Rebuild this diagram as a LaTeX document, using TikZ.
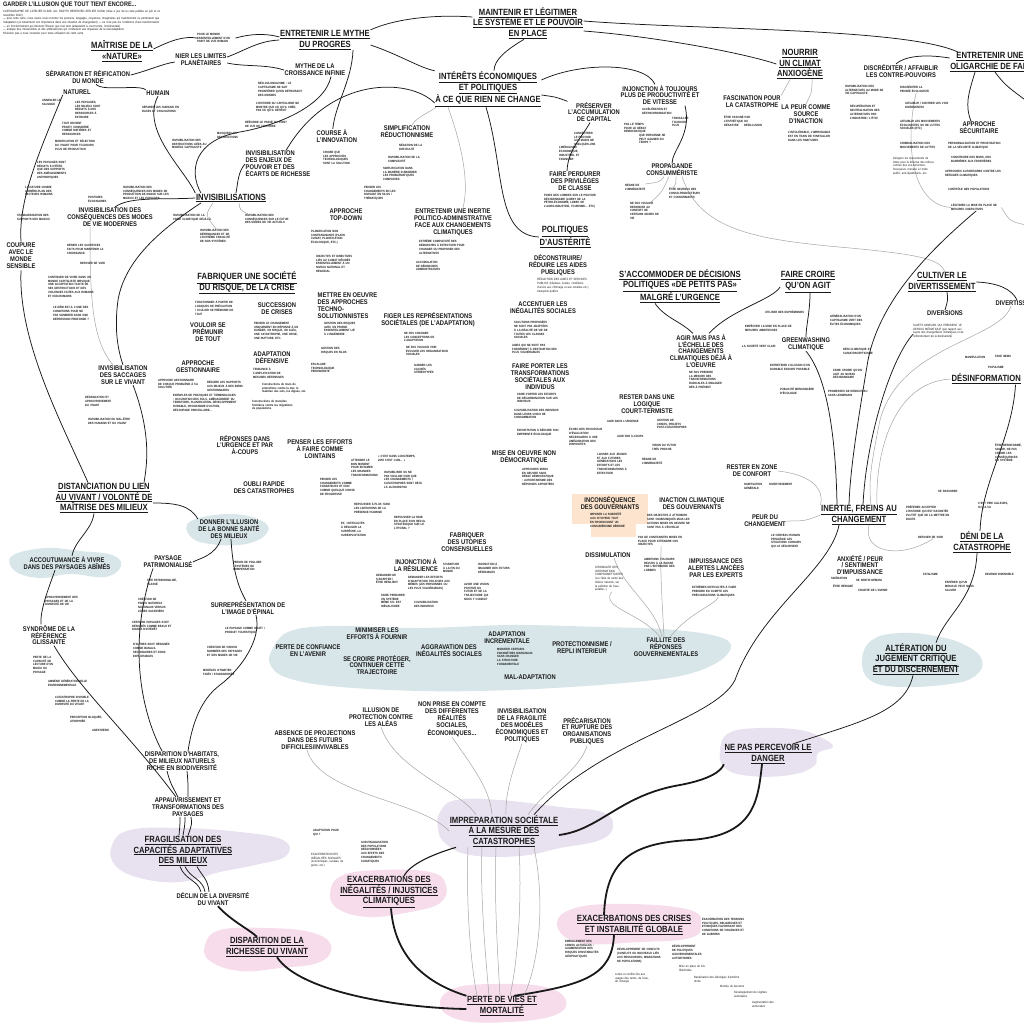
\documentclass[tikz,border=0pt]{standalone}
\usepackage{fontspec}
\setmainfont{Liberation Sans}[FakeStretch=0.85]
\hyphenpenalty=10000 \exhyphenpenalty=10000
\definecolor{ink}{RGB}{25,25,25}
\definecolor{bblue}{RGB}{216,230,234}
\definecolor{blav}{RGB}{232,225,239}
\definecolor{bpink}{RGB}{247,221,236}
\definecolor{borange}{RGB}{252,228,206}
\definecolor{lgray}{RGB}{165,165,165}
\newcommand{\fA}{\bfseries\fontsize{9}{10.6}\selectfont}
\newcommand{\fB}{\bfseries\fontsize{6.8}{6.9}\selectfont}
\newcommand{\fC}{\bfseries\fontsize{3.1}{3.75}\selectfont}
\newcommand{\uu}[1]{\underline{#1}}
\pgfdeclarelayer{blobs}
\pgfdeclarelayer{bg}
\pgfsetlayers{blobs,bg,main}
\tikzset{
 hA/.style={font=\fA, align=center, inner sep=0.5pt, text=ink},
 hB/.style={font=\fB, align=center, inner sep=0.5pt, text=ink},
 sm/.style={font=\fC, align=left, inner sep=0pt, text=ink, text width=#1pt, anchor=north west},
 lk/.style={line width=0.75pt, draw=ink},
 gk/.style={line width=0.5pt, draw=lgray},
 tk/.style={line width=1.8pt, draw=ink}
}
\begin{document}
\begin{tikzpicture}[x=1pt,y=-1pt]
\useasboundingbox (0,0) rectangle (1024,1024);
\coordinate (edgeR) at (1032,105);
\coordinate (edgeR2) at (1032,226);

% ---------------- blobs ----------------
\begin{pgfonlayer}{blobs}
\fill[white] (0,0) rectangle (1024,1024);
\fill[bblue] plot[smooth cycle, tension=0.7] coordinates {(12,556) (45,548) (80,551) (112,555) (121,566) (105,577) (70,574) (40,578) (15,571)};
\fill[bblue] plot[smooth cycle, tension=0.7] coordinates {(191,521) (230,514) (262,521) (267,533) (246,544) (210,544) (190,536)};
\fill[bblue] plot[smooth cycle, tension=0.6] coordinates {(272,650) (288,632) (330,626) (420,628) (512,625) (600,627) (662,629) (712,635) (731,645) (718,662) (680,676) (612,684) (512,690) (420,691) (330,686) (285,677) (270,664)};
\fill[bblue] plot[smooth cycle, tension=0.7] coordinates {(862,660) (872,640) (900,633) (935,636) (965,645) (982,660) (975,676) (950,684) (900,687) (870,680)};
\fill[blav] plot[smooth cycle, tension=0.7] coordinates {(720,750) (729,733) (760,728) (800,730) (822,738) (833,747) (818,753) (814,766) (790,775) (750,776) (725,768)};
\fill[blav] plot[smooth cycle, tension=0.7] coordinates {(440,812) (456,800) (500,800) (560,807) (602,812) (613,826) (600,840) (560,848) (520,856) (470,855) (445,843) (438,828)};
\fill[blav] plot[smooth cycle, tension=0.7] coordinates {(112,845) (130,830) (180,828) (240,832) (283,840) (286,856) (255,865) (220,872) (180,882) (140,878) (115,865)};
\fill[bpink] plot[smooth cycle, tension=0.7] coordinates {(330,895) (341,876) (380,870) (430,872) (446,885) (440,903) (410,912) (370,917) (340,910)};
\fill[bpink] plot[smooth cycle, tension=0.7] coordinates {(205,945) (220,930) (265,928) (310,932) (331,945) (320,962) (280,968) (240,971) (210,961)};
\fill[bpink] plot[smooth cycle, tension=0.7] coordinates {(440,1005) (455,988) (500,984) (545,987) (566,1000) (555,1015) (510,1022) (460,1020)};
\fill[bpink] plot[smooth cycle, tension=0.7] coordinates {(557,925) (575,908) (630,904) (690,910) (701,925) (690,938) (640,942) (580,943)};
\fill[borange] (572,494) rectangle (648,524);
\fill[borange] (591,523) rectangle (636,537);
\end{pgfonlayer}

% ---------------- title ----------------
\node[anchor=north west, font=\bfseries\fontsize{6.5}{7}\selectfont, inner sep=0, text=ink] (title) at (3,2) {GARDER L'ILLUSION QUE TOUT TIENT ENCORE...};
\node[sm=205, font=\fontsize{3.1}{3.7}\selectfont] (subtitle) at (3,10) {CARTOGRAPHIE DE L'ATELIER KLIMA. ALL RIGHTS RESERVED ATELIER KLIMA (mise à jour de la carte publiée en juin et en\\novembre 2022)\\— pour cette carte, nous avons voulu montrer les postures, langages, croyances, imaginaires qui maintiennent ou permettent que\\l'adaptation (et notamment son importance dans une situation de changement) — ne crée pas les conditions d'une transformation\\— en fonctionnement qui donnent l'illusion que tout tient (adaptation à court terme, incrémentale)\\— analyse des mécanismes et des ambivalences qui conduisent aux impasses de la mal-adaptation\\N'hésitez pas à nous contacter pour toute utilisation de cette carte};

% ---------------- main headings ----------------
\node[hA] (mainT) at (528,23) {\uu{MAINTENIR ET LÉGITIMER}\\\uu{LE SYSTÈME ET LE POUVOIR}\\\uu{EN PLACE}};
\node[hA] (mythe) at (325,40) {\uu{ENTRETENIR LE MYTHE}\\\uu{DU PROGRES}};
\node[hA] (maitrise) at (122,51) {\uu{MAÎTRISE DE LA}\\\uu{«NATURE»}};
\node[hA] (nourrir) at (800,64) {\uu{NOURRIR}\\\uu{UN CLIMAT}\\\uu{ANXIOGÈNE}};
\node[hA] (oligarchie) at (990,62) {\uu{ENTRETENIR UNE}\\\uu{OLIGARCHIE DE FAIT}};
\node[hA] (interets) at (488,89) {\uu{INTÉRÊTS ÉCONOMIQUES}\\\uu{ET POLITIQUES}\\\uu{À CE QUE RIEN NE CHANGE}};
\node[hA] (invis) at (231,198) {\uu{INVISIBILISATIONS}};
\node[hA] (fabriquer) at (247,283) {\uu{FABRIQUER UNE SOCIÉTÉ}\\\uu{DU RISQUE, DE LA CRISE}};
\node[hA] (austerite) at (565,237) {\uu{POLITIQUES}\\\uu{D'AUSTÉRITÉ}};
\node[hA] (accommoder) at (680,286) {\uu{S'ACCOMMODER DE DÉCISIONS}\\\uu{POLITIQUES «DE PETITS PAS»}\\\uu{MALGRÉ L'URGENCE}};
\node[hA] (fairecroire) at (808,282) {\uu{FAIRE CROIRE}\\\uu{QU'ON AGIT}};
\node[hA] (cultiver) at (942,282) {\uu{CULTIVER LE}\\\uu{DIVERTISSEMENT}};
\node[hA] (distanciation) at (104,498) {\uu{DISTANCIATION DU LIEN}\\\uu{AU VIVANT / VOLONTÉ DE}\\\uu{MAÎTRISE DES MILIEUX}};
\node[hA] (inertie) at (859,515) {\uu{INERTIE, FREINS AU}\\\uu{CHANGEMENT}};
\node[hA] (deni) at (982,542) {\uu{DÉNI DE LA}\\\uu{CATASTROPHE}};
\node[hA, anchor=west] (desinfo) at (951,379) {\uu{DÉSINFORMATION}};
\node[hA] (alteration) at (916,659) {\uu{ALTÉRATION DU}\\\uu{JUGEMENT CRITIQUE}\\\uu{ET DU DISCERNEMENT}};
\node[hA] (neparcevoir) at (768,754) {\uu{NE PAS PERCEVOIR LE}\\\uu{DANGER}};
\node[hA] (impreparation) at (504,831) {\uu{IMPREPARATION SOCIÉTALE}\\\uu{À LA MESURE DES}\\\uu{CATASTROPHES}};
\node[hA] (exacInegal) at (389,892) {\uu{EXACERBATIONS DES}\\\uu{INÉGALITÉS / INJUSTICES}\\\uu{CLIMATIQUES}};
\node[hA] (fragilisation) at (183,851) {\uu{FRAGILISATION DES}\\\uu{CAPACITÉS ADAPTATIVES}\\\uu{DES MILIEUX}};
\node[hA] (disparition) at (267,947) {\uu{DISPARITION DE LA}\\\uu{RICHESSE DU VIVANT}};
\node[hA] (perte) at (502,1006) {\uu{PERTE DE VIES ET}\\\uu{MORTALITÉ}};
\node[hA] (exacCrises) at (634,925) {\uu{EXACERBATIONS DES CRISES}\\\uu{ET INSTABILITÉ GLOBALE}};

% ---------------- medium headings ----------------
\node[hB] (nier) at (201,60) {NIER LES LIMITES\\PLANÉTAIRES};
\node[hB] (separation) at (88,77) {SÉPARATION ET RÉIFICATION\\DU MONDE};
\node[hB] (naturel) at (77,92) {NATUREL};
\node[hB] (humain) at (158,93) {HUMAIN};
\node[hB] (croissance) at (315,70) {MYTHE DE LA\\CROISSANCE INFINIE};
\node[hB, align=left, anchor=west] (course) at (316,136) {COURSE À\\L'INNOVATION};
\node[hB, align=left, anchor=west] (enjeux) at (245,164) {INVISIBILISATION\\DES ENJEUX DE\\POUVOIR ET DES\\ÉCARTS DE RICHESSE};
\node[hB] (simplif) at (407,132) {SIMPLIFICATION\\RÉDUCTIONNISME};
\node[hB] (topdown) at (346,215) {APPROCHE\\TOP-DOWN};
\node[hB] (inertieadm) at (453,222) {ENTRETENIR UNE INERTIE\\POLITICO-ADMINISTRATIVE\\FACE AUX CHANGEMENTS\\CLIMATIQUES};
\node[hB, align=left, anchor=north west] (techno) at (317,292) {METTRE EN OEUVRE\\DES APPROCHES\\TECHNO-\\SOLUTIONNISTES};
\node[hB] (figer) at (428,320) {FIGER LES REPRÉSENTATIONS\\SOCIÉTALES (DE L'ADAPTATION)};
\node[hB] (succession) at (277,309) {SUCCESSION\\DE CRISES};
\node[hB] (vouloir) at (208,332) {VOULOIR SE\\PRÉMUNIR\\DE TOUT};
\node[hB] (adaptdef) at (272,358) {ADAPTATION\\DÉFENSIVE};
\node[hB] (gestionnaire) at (198,367) {APPROCHE\\GESTIONNAIRE};
\node[hB] (saccages) at (123,375) {INVISIBILISATION\\DES SACCAGES\\SUR LE VIVANT};
\node[hB] (consequences) at (110,217) {INVISIBILISATION DES\\CONSÉQUENCES DES MODES\\DE VIE MODERNES};
\node[hB] (reponses) at (245,445) {RÉPONSES DANS\\L'URGENCE ET PAR\\À-COUPS};
\node[hB] (penser) at (320,449) {PENSER LES EFFORTS\\À FAIRE COMME\\LOINTAINS};
\node[hB] (oubli) at (264,488) {OUBLI RAPIDE\\DES CATASTROPHES};
\node[hB] (utopies) at (467,542) {FABRIQUER\\DES UTOPIES\\CONSENSUELLES};
\node[hB] (resilience) at (416,565) {INJONCTION À\\LA RÉSILIENCE};
\node[hB] (paysage) at (168,562) {PAYSAGE\\PATRIMONIALISÉ};
\node[hB] (surrep) at (248,608) {SURREPRÉSENTATION DE\\L'IMAGE D'ÉPINAL};
\node[hB] (syndrome) at (49,635) {SYNDRÔME DE LA\\RÉFÉRENCE\\GLISSANTE};
\node[hB] (habitats) at (182,761) {DISPARITION D'HABITATS,\\DE MILIEUX NATURELS\\RICHE EN BIODIVERSITÉ};
\node[hB] (appauv) at (188,807) {APPAUVRISSEMENT ET\\TRANSFORMATIONS DES\\PAYSAGES};
\node[hB] (declin) at (213,899) {DÉCLIN DE LA DIVERSITÉ\\DU VIVANT};
\node[hB] (absence) at (315,740) {ABSENCE DE PROJECTIONS\\DANS DES FUTURS\\DIFFICILES/INVIVABLES};
\node[hB] (illusion) at (381,717) {ILLUSION DE\\PROTECTION CONTRE\\LES ALÉAS};
\node[hB] (nonprise) at (452,719) {NON PRISE EN COMPTE\\DES DIFFÉRENTES\\RÉALITÉS\\SOCIALES,\\ÉCONOMIQUES...};
\node[hB] (invisfrag) at (522,726) {INVISIBILISATION\\DE LA FRAGILITÉ\\DES MODÈLES\\ÉCONOMIQUES ET\\POLITIQUES};
\node[hB] (precar) at (587,731) {PRÉCARISATION\\ET RUPTURE DES\\ORGANISATIONS\\PUBLIQUES};
\node[hB] (diversions) at (945,313) {DIVERSIONS};
\node[hB, anchor=west] (divertiss) at (995,303) {DIVERTISSEMENT};
\node[hB] (discrediter) at (901,71) {DISCRÉDITER / AFFAIBLIR\\LES CONTRE-POUVOIRS};
\node[hB] (securitaire) at (979,128) {APPROCHE\\SÉCURITAIRE};
\node[hB] (fascination) at (752,102) {FASCINATION POUR\\LA CATASTROPHE};
\node[hB] (peur) at (806,114) {LA PEUR COMME\\SOURCE\\D'INACTION};
\node[hB] (injonction) at (660,95) {INJONCTION À TOUJOURS\\PLUS DE PRODUCTIVITÉ ET\\DE VITESSE};
\node[hB] (preserver) at (594,112) {PRÉSERVER\\L'ACCUMULATION\\DE CAPITAL};
\node[hB] (perdurer) at (575,181) {FAIRE PERDURER\\DES PRIVILÈGES\\DE CLASSE};
\node[hB] (propagande) at (672,170) {PROPAGANDE\\CONSUMMÉRISTE};
\node[hB] (deconstruire) at (558,265) {DÉCONSTRUIRE/\\RÉDUIRE LES AIDES\\PUBLIQUES};
\node[hB] (accentuer) at (543,308) {ACCENTUER LES\\INÉGALITÉS SOCIALES};
\node[hB] (agir) at (701,351) {AGIR MAIS PAS À\\L'ÉCHELLE DES\\CHANGEMENTS\\CLIMATIQUES DÉJÀ À\\L'OEUVRE};
\node[hB] (porter) at (540,377) {FAIRE PORTER LES\\TRANSFORMATIONS\\SOCIÉTALES AUX\\INDIVIDUS};
\node[hB] (court) at (647,404) {RESTER DANS UNE\\LOGIQUE\\COURT-TERMISTE};
\node[hB] (miseoeuvre) at (524,457) {MISE EN OEUVRE NON\\DÉMOCRATIQUE};
\node[hB] (inaction) at (692,504) {INACTION CLIMATIQUE\\DES GOUVERNANTS};
\node[hB] (dissimulation) at (608,555) {DISSIMULATION};
\node[hB] (impuissance) at (716,568) {IMPUISSANCE DES\\ALERTES LANCÉES\\PAR LES EXPERTS};
\node[hB] (zone) at (752,471) {RESTER EN ZONE\\DE CONFORT};
\node[hB] (peurchg) at (765,521) {PEUR DU\\CHANGEMENT};
\node[hB] (anxiete) at (860,565) {ANXIÉTÉ / PEUR\\/ SENTIMENT\\D'IMPUISSANCE};
\node[hB] (greenwash) at (806,344) {GREENWASHING\\CLIMATIQUE};
\node[hB, fill=white, inner sep=1.5pt] (coupure) at (21,256) {COUPURE\\AVEC LE\\MONDE\\SENSIBLE};
\node[hB] (inconsequence) at (610,503) {INCONSÉQUENCE\\DES GOUVERNANTS};
\node[hB] (accout) at (67,563) {ACCOUTUMANCE À VIVRE\\DANS DES PAYSAGES ABÎMÉS};
\node[hB] (donner) at (229,529) {DONNER L'ILLUSION\\DE LA BONNE SANTÉ\\DES MILIEUX};
\node[hB] (minimiser) at (377,634) {MINIMISER LES\\EFFORTS À FOURNIR};
\node[hB] (perteconf) at (308,651) {PERTE DE CONFIANCE\\EN L'AVENIR};
\node[hB] (secroire) at (377,665) {SE CROIRE PROTÉGER,\\CONTINUER CETTE\\TRAJECTOIRE};
\node[hB] (aggravation) at (449,651) {AGGRAVATION DES\\INÉGALITÉS SOCIALES};
\node[hB] (adaptinc) at (507,638) {ADAPTATION\\INCREMENTALE};
\node[hB] (maladapt) at (530,677) {MAL-ADAPTATION};
\node[hB] (protection) at (582,648) {PROTECTIONNISME /\\REPLI INTERIEUR};
\node[hB] (faillite) at (666,647) {FAILLITE DES\\RÉPONSES\\GOUVERNEMENTALES};

% ---------------- small texts ----------------
\node[sm=38] (t1) at (197,33) {POUR LE MONDE ESSENTIELLEMENT D'UN POINT DE VUE HUMAIN};
\node[sm=22] (t2) at (42,99) {ANNIHILER LE SAUVAGE};
\node[sm=28] (t3) at (75,101) {LES PAYSAGES, LES MILIEUX SONT RÉDUITS À DES RESSOURCES À EXTRAIRE};
\node[sm=32] (t4) at (62,122) {TOUT DEVIENT PROFIT, CONSIDÉRÉ COMME MATIÈRES ET RESSOURCES};
\node[sm=42] (t5) at (55,140) {MODIFICATION ET SÉLECTION DU VIVANT POUR TOUJOURS PLUS DE PRODUCTION};
\node[sm=35] (t6) at (37,161) {LES PAYSAGES SONT RÉDUITS À N'ÊTRE QUE DES SUPPORTS DES AMÉNAGEMENTS ANTHROPIQUES};
\node[sm=32] (t7) at (25,186) {LA NATURE COMME ARRIÈRE-PLAN DES FACTEURS HUMAINS};
\node[sm=38] (t8) at (17,214) {STANDARDISATION DES SUPPORTS DES MILIEUX};
\node[sm=24] (t9) at (88,196) {POSTURES ÉCOCIDAIRES};
\node[sm=46] (t10) at (123,186) {INVISIBILISATION DES CONSÉQUENCES DES MODES DE PRODUCTION DE MASSE SUR LES MILIEUX ET LES PAYSAGES};
\node[sm=42] (t11) at (142,106) {SÉPARER LES HUMAINS EN RACES ET CIVILISATIONS};
\node[sm=42] (t12) at (172,139) {INVISIBILISATION DES DESTRUCTIONS LIÉES AU MODÈLE CAPITALISTE};
\node[sm=25] (t13) at (217,132) {MASQUER LES DESTRUCTIONS};
\node[sm=42] (t14) at (245,121) {RÉÉCRIRE LE PASSÉ DU POINT DE VUE DE L'HISTOIRE};
\node[sm=44] (t15) at (258,82) {NÉO-COLONIALISME : LE CAPITALISME NE SAIT PROSPÉRER QU'EN DÉTRUISANT DES MONDES};
\node[sm=44] (t16) at (256,102) {L'HISTOIRE DU CAPITALISME NE MONTRE QUE CE QU'IL CRÉE, PAS CE QU'IL DÉTRUIT};
\node[sm=32] (t17) at (323,151) {CROIRE QUE LES APPROCHES TECHNOLOGIQUES SONT LA SOLUTION};
\node[sm=30] (t18) at (399,144) {NÉGATION DE LA DIFFICULTÉ};
\node[sm=32] (t19) at (388,156) {INVISIBILISATION DE LA COMPLEXITÉ};
\node[sm=38] (t20) at (383,167) {SIMPLIFICATION DANS LA MANIÈRE D'ABORDER LES PROBLÉMATIQUES COMPLEXES};
\node[sm=32] (t21) at (364,186) {PENSER LES CHANGEMENTS EN LES DIVISANT EN SILOS / THÉMATIQUES};
\node[sm=34] (t22) at (311,230) {PLANIFICATION NON CONTRAIGNANTE (PLANS CLIMAT, PLANIFICATION ÉCOLOGIQUE, ETC.)};
\node[sm=42] (t23) at (316,255) {OBJECTIFS ET DIRECTIVES LIÉS AU CLIMAT DÉCIDÉS ESSENTIELLEMENT À UN NIVEAU NATIONAL ET RÉGIONAL};
\node[sm=46] (t24) at (419,240) {EXTRÊME COMPLEXITÉ DES DÉMARCHES À EFFECTUER POUR CHANGER OU PROPOSER DES ALTERNATIVES};
\node[sm=32] (t25) at (416,261) {ACCUMULATION DE DÉMARCHES ADMINISTRATIVES};
\node[sm=44] (t26) at (195,301) {FONCTIONNER À PARTIR DE LOGIQUES DE PRÉCAUTION / VOULOIR SE PRÉMUNIR DE TOUT};
\node[sm=46] (t27) at (254,322) {PENSER LE CHANGEMENT UNIQUEMENT EN RÉPONSE À UN DANGER, UN RISQUE, UN ALÉA, UNE CATASTROPHE, UNE CRISE, UNE RUPTURE, ETC.};
\node[sm=40] (t28) at (253,368) {TENDANCE À L'AMPLIFICATION DE MESURES DÉFENSIVES};
\node[sm=46] (t29) at (262,383) {Constructions de murs de protections contre la mer, le maintien des sols, les digues, etc.};
\node[sm=44] (t30) at (252,400) {Constructions de murs/des frontières contre les migrations de populations};
\node[sm=34] (t31) at (324,322) {GESTION DES RISQUES AVEC UN PRISME ESSENTIELLEMENT LIÉ À L'INGÉNIERIE};
\node[sm=30] (t32) at (321,347) {GESTION DES RISQUES EN SILOS};
\node[sm=30] (t33) at (311,363) {ESCALADE TECHNOLOGIQUE PERMANENTE};
\node[sm=36] (t34) at (404,332) {NE PAS CHANGER LES CONCEPTIONS DE L'ADAPTATION};
\node[sm=44] (t35) at (406,346) {NE PAS VOULOIR VOIR ÉVOLUER LES ORGANISATIONS SOCIALES};
\node[sm=26] (t36) at (414,364) {GARDER LES CLICHÉS STÉRÉOTYPÉS};
\node[sm=40] (t37) at (158,379) {APPROCHE GESTIONNAIRE DE CHAQUE PROBLÈME À SA SOLUTION};
\node[sm=38] (t38) at (207,381) {RÉDUIRE LES RAPPORTS AUX MILIEUX À DES BIENS GESTIONNAIRES};
\node[sm=64] (t39) at (173,394) {EXEMPLES DE PRATIQUES ET TERMINOLOGIES : OCCUPATION DES SOLS, AMÉNAGEMENT DU TERRITOIRE, PLANIFICATION, DÉVELOPPEMENT DURABLE, PROGRAMME D'ACTION, DÉCOUPAGE PARCELLAIRE...};
\node[sm=30] (t40) at (85,396) {DÉGRADATION ET APPAUVRISSEMENT DU VIVANT};
\node[sm=42] (t41) at (88,418) {INVISIBILISATION DU MAL-ÊTRE DES HUMAINS ET DU VIVANT};
\node[sm=45] (t42) at (67,244) {DÉNIER LES SACRIFICES FAITS POUR MAINTENIR LA CROISSANCE};
\node[sm=25] (t43) at (80,262) {REFUSER DE VOIR};
\node[sm=50] (t44) at (48,276) {CONTINUER DE VIVRE DANS UN MONDE CAPITALISTE IMPLIQUE UNE ACCEPTATION TACITE DE SES DESTRUCTIONS ET DES VIOLENCES FAITES AUX HUMAINS ET NON-HUMAINS};
\node[sm=45] (t45) at (53,306) {LE DÉNI EST-IL L'UNE DES CONDITIONS POUR NE PAS SOMBRER DANS UNE DÉPRESSION PROFONDE ?};
\node[sm=38] (t46) at (173,214) {INVISIBILISATION DE LA CRISE CLIMATIQUE DÉJÀ-LÀ};
\node[sm=32] (t47) at (200,229) {INVISIBILISATION DES DÉPENDANCES ET DE L'EXTRÊME FRAGILITÉ DE NOS SYSTÈMES};
\node[sm=48] (t48) at (245,214) {INVISIBILISATION DES CONSÉQUENCES SUR LE FUTUR DES MODES DE VIE ACTUELS};
\node[sm=27] (t49) at (574,132) {CONCENTRER LE POUVOIR AUX MAINS DE QUELQUES-UNS};
\node[sm=22] (t50) at (559,146) {LIBÉRALISME ÉCONOMIQUE, INDUSTRIEL ET FINANCIER};
\node[sm=52] (t51) at (544,194) {POIDS DES LOBBIES SUR LE POUVOIR DÉCISIONNAIRE (LOBBY DE LA PÉTRO-ÉCONOMIE, LOBBY DE L'AGRO-INDUSTRIE, TOURISME... ETC)};
\node[sm=30] (t52) at (642,108) {ACCÉLÉRATION ET DÉSYNCHRONISATION};
\node[sm=30] (t53) at (624,123) {PAS LE TEMPS POUR LE DÉBAT DÉMOCRATIQUE};
\node[sm=18] (t54) at (672,117) {TRAVAILLER TOUJOURS PLUS};
\node[sm=28] (t55) at (639,134) {QUE PERSONNE NE PEUT GAGNER DU TEMPS ?};
\node[sm=20] (t56) at (625,184) {RÈGNE DE L'IMMÉDIATETÉ};
\node[sm=30] (t57) at (669,188) {ÊTRE DEVENUS DES CONSO-PRODUCTEURS ET CONSOMMANTS};
\node[sm=30] (t58) at (630,202) {NE PAS VOULOIR RENONCER AU CONFORT DE CERTAINS MODES DE VIE};
\node[sm=38] (t59) at (724,116) {ÊTRE FASCINÉ PAR L'ESTHÉTIQUE DU DÉSASTRE};
\node[sm=20] (t60) at (744,124) {DÉSILLUSION};
\node[sm=46] (t61) at (788,131) {L'INTOLÉRABLE, L'IMPENSABLE EST EN TRAIN DE S'INSTALLER DANS LES HABITUDES};
\node[sm=40] (t62) at (845,85) {INVISIBILISATION DES ALTERNATIVES AU MODE DE VIE CAPITALISTE};
\node[sm=38] (t63) at (850,105) {RÉCUPÉRATION ET NEUTRALISATION DES ALTERNATIVES PAR L'INDUSTRIE / L'ÉTAT};
\node[sm=32] (t64) at (900,86) {DISCRÉDITER LA PENSÉE ÉCOLOGISTE};
\node[sm=45] (t65) at (905,102) {AFFAIBLIR / CONTRER LES VOIX DIVERGENTES};
\node[sm=45] (t66) at (900,120) {AFFAIBLIR LES MOUVEMENTS ÉCOLOGISTES OU DE LUTTES SOCIALES (ETC)};
\node[sm=40] (t67) at (900,142) {CRIMINALISATION DES MOUVEMENTS DE LUTTES};
\node[sm=43, font=\fontsize{3.1}{3.75}\selectfont] (t68) at (893,157) {Désigner les mouvements de luttes pour la défense des milieux comme des éco-terroristes, fossoyeurs, menace à l'ordre public, anti-républicains, etc.};
\node[sm=54] (t69) at (948,142) {PERSONNALISATION ET PRIVATISATION DE LA SÉCURITÉ CLIMATIQUE};
\node[sm=46] (t70) at (951,156) {CONSTRUIRE DES MURS, DES BARRIÈRES AUX FRONTIÈRES};
\node[sm=56] (t71) at (945,170) {APPROCHES AUTORITAIRES CONTRE LES RÉFUGIÉS CLIMATIQUES};
\node[sm=48] (t72) at (948,188) {CONTRÔLE DES POPULATIONS};
\node[sm=50] (t73) at (951,204) {LÉGITIMER LA MISE EN PLACE DE MESURES COERCITIVES};
\node[sm=52, font=\fontsize{3.1}{3.75}\selectfont] (t74) at (537,278) {RÉDUCTION DES AIDES ET SERVICES PUBLICS (hôpitaux, écoles, conditions d'accès aux chômage et aux retraites etc.) transports publics};
\node[sm=36] (t75) at (514,321) {SOLUTIONS PROPOSÉES NE SONT PAS ADAPTÉES À LA RÉALITÉ DE VIE DE TOUTES LES CLASSES SOCIALES};
\node[sm=48] (t76) at (512,344) {AIDES QUI NE SONT PAS FORCÉMENT À DESTINATION DES PLUS VULNÉRABLES};
\node[sm=44] (t77) at (517,393) {FAIRE PORTER LES EFFORTS DE DÉCARBONATION SUR LES INDIVIDUS};
\node[sm=52] (t78) at (514,409) {CULPABILISATION DES INDIVIDUS DANS LEURS CHOIX DE CONSOMMATION};
\node[sm=48] (t79) at (517,429) {EXHORTATION À RÉDUIRE SON EMPREINTE ÉCOLOGIQUE};
\node[sm=48] (t80) at (765,311) {UTILISER DES EUPHÉMISMES};
\node[sm=48] (t81) at (745,325) {EMPÊCHER LA MISE EN PLACE DE MESURES AMBITIEUSES};
\node[sm=38] (t82) at (830,315) {GÉNÉRALISATION D'UN CAPITALISME VERT DES ÉLITES ÉCONOMIQUES};
\node[sm=34] (t83) at (689,371) {NE PAS PRENDRE LA MESURE DES TRANSFORMATIONS RADICALES À ENGAGER DÈS À PRÉSENT};
\node[sm=38] (t84) at (742,345) {LA SOCIÉTÉ VERT CLAIR};
\node[sm=40] (t85) at (843,348) {DÉNI CLIMATIQUE ET CLIMATOSCEPTICISME};
\node[sm=52] (t86) at (770,364) {ENTRETENIR L'ILLUSION D'UN DURABLE ENCORE POSSIBLE};
\node[sm=34] (t87) at (833,369) {FAIRE CROIRE QU'ON AGIT AU NIVEAU DÉCISIONNAIRE};
\node[sm=34] (t88) at (780,388) {PUBLICITÉ MENSONGÈRE D'ÉCOLOGIE};
\node[sm=46] (t89) at (828,390) {PROMESSES DE RENOUVEAU SANS LENDEMAIN};
\node[sm=24] (t90) at (965,356) {MANIPULATION};
\node[sm=22] (t91) at (995,355) {FAKE NEWS};
\node[sm=22] (t92) at (988,366) {POPULISME};
\node[sm=56, font=\fontsize{3.1}{3.75}\selectfont] (t93) at (913,324) {SUJETS MINEURS QUI PRENNENT LE DESSUS MÉDIATIQUE (par rapport aux sujets des changements climatiques et de l'effondrement de la biodiversité)};
\node[sm=27] (t94) at (995,444) {ÊTRE DÉSINFORMÉ, SAVOIR, NE PAS CROIRE LES CONSÉQUENCES DU SYSTÈME};
\node[sm=24] (t95) at (938,490) {SE RASSURER};
\node[sm=30] (t96) at (978,502) {C'EST PIRE AILLEURS, ICI ÇA VA};
\node[sm=44] (t97) at (906,506) {PRÉFÉRER ACCEPTER L'HISTOIRE QUI EST RACONTÉE PLUTÔT QUE DE LA METTRE EN DOUTE};
\node[sm=30] (t98) at (918,536) {REFUSER DE VOIR};
\node[sm=20] (t99) at (923,573) {FATALISME};
\node[sm=34] (t100) at (945,581) {ESPÉRER QU'UN MIRACLE PEUT NOUS SAUVER};
\node[sm=36] (t101) at (985,573) {DEVENIR INSENSIBLE};
\node[sm=20] (t102) at (744,483) {HABITUATION GÉNÉRALE};
\node[sm=30] (t103) at (769,483) {DIVERTISSEMENT};
\node[sm=36] (t104) at (771,534) {LE CERVEAU HUMAIN PRIVILÉGIE LES SITUATIONS CONNUES QUI LE SÉCURISENT};
\node[sm=22] (t105) at (831,577) {SIDÉRATION};
\node[sm=30] (t106) at (856,579) {SE SENTIR DÉMUNI};
\node[sm=24] (t107) at (833,585) {ÊTRE RÉSIGNÉ};
\node[sm=34] (t108) at (858,589) {CRAINTE DE L'AVENIR};
\node[sm=46] (t109) at (590,513) {IMPOSER LA SOBRIÉTÉ AUX CITOYENS TOUT EN PROMOUVANT UN CONSUMÉRISME DÉBRIDÉ};
\node[sm=44] (t110) at (647,514) {DES OBJECTIFS À ATTEINDRE SONT COMMUNIQUÉS MAIS LES ACTIONS MISES EN OEUVRE NE SONT PAS À L'ÉCHELLE};
\node[sm=46] (t111) at (638,536) {PAS DE CONTRAINTES MISES EN PLACE POUR ATTEINDRE CES OBJECTIFS};
\node[sm=33, font=\fontsize{3.1}{3.75}\selectfont] (t112) at (595,566) {DISSIMULER DES INFORMATIONS COMPROMETTANTES (sur l'état de santé des milieux naturels, sur la pollution de l'eau potable...)};
\node[sm=36] (t113) at (644,558) {AMBITIONS TOUJOURS REVUES À LA BAISSE PAR L'ENTREMISE DES LOBBIES};
\node[sm=52] (t114) at (692,586) {EXTRÊMES DIFFICULTÉS À FAIRE PRENDRE EN COMPTE LES PRÉCONISATIONS CLIMATIQUES};
\node[sm=40] (t115) at (607,420) {AGIR DANS L'URGENCE};
\node[sm=32] (t116) at (657,419) {GESTION DE CRISES, PROJETS POST-CATASTROPHES};
\node[sm=30] (t117) at (617,435) {AGIR PAR À-COUPS};
\node[sm=28] (t118) at (652,444) {VISION DU FUTUR TRÈS PROCHE};
\node[sm=20] (t119) at (642,458) {RÈGNE DE L'IMMÉDIATETÉ};
\node[sm=36] (t120) at (597,453) {LAISSER AUX JEUNES ET AUX FUTURES GÉNÉRATIONS LES EFFORTS ET LES TRANSFORMATIONS À EFFECTUER};
\node[sm=34] (t121) at (569,428) {ÉCHEC DES PROCESSUS D'ÉVALUATION NÉCESSAIRES À UNE AMÉLIORATION DES DISPOSITIFS};
\node[sm=38] (t122) at (522,468) {APPROCHES MISES EN OEUVRE SANS DÉBAT DÉMOCRATIQUE : AUTORITARISME DES RÉPONSES APPORTÉES};
\node[sm=20] (t123) at (443,563) {S'HABITUER À LA FIN DU MONDE};
\node[sm=34] (t124) at (478,563) {INJONCTION À IMAGINER DES FUTURS DÉSIRABLES};
\node[sm=24] (t125) at (376,574) {DEMANDER DE S'ADAPTER / ÊTRE RÉSILIENT};
\node[sm=42] (t126) at (408,576) {DEMANDER LES EFFORTS D'ADAPTATION TOUJOURS AUX MÊMES (LES PERSONNES OU LES PLUS VULNÉRABLES)};
\node[sm=25] (t127) at (381,594) {FAIRE PERDURER UN SYSTÈME MÊME S'IL EST INÉGALITAIRE};
\node[sm=30] (t128) at (414,601) {CULPABILISATION DES INDIVIDUS};
\node[sm=28] (t129) at (464,583) {AVOIR UNE VISION POSITIVE DU FUTUR ET DE LA TRAJECTOIRE QUI NOUS Y CONDUIT};
\node[sm=42] (t130) at (378,455) {« C'EST DANS LONGTEMPS, 2050 C'EST LOIN... »};
\node[sm=28] (t131) at (351,459) {ATTENDRE LE BON MOMENT POUR ENTAMER LES GRANDES TRANSFORMATIONS};
\node[sm=38] (t132) at (384,471) {INVISIBILISER OU NE PAS VOULOIR VOIR QUE LES CHANGEMENTS / CATASTROPHES SONT DÉJÀ LÀ AUJOURD'HUI};
\node[sm=36] (t133) at (320,478) {PENSER LES CHANGEMENTS COMME FONDATEURS ET NON COMME QUELQUE CHOSE DE PROGRESSIF};
\node[sm=36] (t134) at (354,503) {REPOUSSER À PLUS TARD LES LIMITATIONS DE LA PRÉSENCE HUMAINE};
\node[sm=30] (t135) at (341,522) {EX : DIFFICULTÉS À RÉGULER LA SURPÊCHE, LA SUREXPLOITATION};
\node[sm=36] (t136) at (394,516) {REPOUSSER LA MISE EN PLACE D'UN RECUL STRATÉGIQUE SUR LE LITTORAL ?};
\node[sm=36] (t137) at (233,561) {PERMIS DE POLLUER / SYSTÈMES DE COMPENSATION};
\node[sm=36] (t138) at (147,579) {SITE PATRIMONIALISÉ, CLASSÉ};
\node[sm=30] (t139) at (138,598) {CRÉATION DE PARCS NATURELS NATIONAUX VERSUS ZONES SACRIFIÉES};
\node[sm=44] (t140) at (132,621) {CERTAINS PAYSAGES SONT DÉSIGNÉS COMME BEAUX ET DIGNES D'INTÉRÊT};
\node[sm=40] (t141) at (133,643) {D'AUTRES SONT DÉSIGNÉS COMME BANALS, SECONDAIRES ET DONC EXPLOITABLES};
\node[sm=42] (t142) at (225,627) {LE PAYSAGE COMME OBJET / PRODUIT TOURISTIQUE};
\node[sm=36] (t143) at (207,646) {CRÉATION DE VISIONS NORMÉES DES PAYSAGES ET DES MODES DE VIE};
\node[sm=36] (t144) at (203,669) {MODÈLES D'HABITER FIGÉS / STANDARDISÉS};
\node[sm=38] (t145) at (45,596) {APPAUVRISSEMENT DES PAYSAGES ET DE LA DIVERSITÉ DE VIE};
\node[sm=26] (t146) at (33,656) {PERTE DE LA CAPACITÉ DE LECTURE D'UN MILIEU OU PAYSAGE};
\node[sm=44] (t147) at (48,680) {AMNÉSIE GÉNÉRATIONNELLE ENVIRONNEMENTALE};
\node[sm=38] (t148) at (55,696) {CATASTROPHE INVISIBLE COMME LA PERTE DE LA DIVERSITÉ DU VIVANT};
\node[sm=36] (t149) at (70,716) {PERCEPTION BLOQUÉE, ATROPHIÉE};
\node[sm=22] (t150) at (92,729) {ANESTHÉSIE};
\node[sm=28] (t151) at (313,829) {ADAPTATION POUR QUI ?};
\node[sm=38] (t152) at (361,841) {SUR-FRAGILISATION DES POPULATIONS DÉFAVORISÉES AUX EFFETS DES CHANGEMENTS CLIMATIQUES};
\node[sm=34, font=\fontsize{3.1}{3.75}\selectfont] (t153) at (311,853) {EXACERBATION DES INÉGALITÉS SOCIALES (économiques, raciales, de genre, etc.)};
\node[sm=46] (t154) at (702,918) {EXACERBATION DES TENSIONS POLITIQUES, RELIGIEUSES ET ETHNIQUES FAVORISANT DES CONDITIONS DE VIOLENCES ET DE GUERRES};
\node[sm=38] (t155) at (565,940) {EMBALLEMENT DES CRISES ACTUELLES : AUGMENTATION DES RISQUES D'INSTABILITÉS GÉOPOLITIQUES};
\node[sm=44] (t156) at (617,948) {DÉVELOPPEMENT DE CONFLITS (CONFLITS OU NOUVEAUX LIÉS AUX RESSOURCES, MIGRATIONS DE POPULATIONS)};
\node[sm=34] (t157) at (672,945) {DÉVELOPPEMENT DE POLITIQUES GOUVERNEMENTALES AUTORITAIRES};
\node[sm=38, font=\fontsize{3.1}{3.75}\selectfont] (t158) at (615,973) {Luttes et conflits liés aux usages des terres, de l'eau, de l'énergie};
\node[sm=32, font=\fontsize{3.1}{3.75}\selectfont] (t159) at (679,965) {Mise en place de lois liberticides};
\node[sm=52, font=\fontsize{3.1}{3.75}\selectfont] (t160) at (694,976) {Banalisation des idéologies d'extrême droite};
\node[sm=30, font=\fontsize{3.1}{3.75}\selectfont] (t161) at (720,985) {Montée du fascisme};
\node[sm=40, font=\fontsize{3.1}{3.75}\selectfont] (t162) at (734,991) {Développement de régimes autoritaires};
\node[sm=34, font=\fontsize{3.1}{3.75}\selectfont] (t163) at (752,1001) {Augmentation des autocraties};
\node[sm=36] (t164) at (497,648) {MODIFIER CERTAINS PARAMÈTRES MARGINAUX SANS CHANGER LA STRUCTURE FONDAMENTALE};

% ---------------- connectors ----------------
\begin{pgfonlayer}{bg}
\draw[lk] ([yshift=6]mainT.west) .. controls (430,14) and (392,20) .. (mythe.north east);
\draw[lk] ([xshift=-4]mainT.south) .. controls (506,50) and (494,60) .. ([xshift=6]interets.north);
\draw[lk] ([yshift=2]mainT.east) .. controls (700,30) and (905,28) .. ([xshift=8]oligarchie.north west);
\draw[lk] ([yshift=-8]mainT.east) .. controls (650,36) and (740,52) .. (nourrir.west);
\draw[lk] ([yshift=2]maitrise.east) .. controls (172,40) and (184,36) .. (t1.west);
\draw[lk] (t1.east) .. controls (250,34) and (265,33) .. ([yshift=3]mythe.west);
\draw[lk] (mythe.west) .. controls (258,41) and (246,50) .. ([yshift=3]nier.east);
\draw[lk] ([yshift=-3]nier.east) .. controls (245,67) and (265,64) .. (croissance.west);
\draw[lk] ([yshift=2]separation.east) .. controls (150,70) and (162,64) .. ([yshift=-2]nier.west);
\draw[lk] ([xshift=8]separation.south) .. controls (102,92) and (140,84) .. (humain.north west);
\draw[lk] (naturel.south west) .. controls (40,150) and (18,200) .. (coupure.north);
\draw[lk] (coupure.south) .. controls (18,340) and (60,420) .. ([xshift=-16]distanciation.north);
\draw[lk] (humain.south) .. controls (140,130) and (185,170) .. (invis.north west);
\draw[lk] ([xshift=28]mythe.south) .. controls (352,80) and (335,105) .. ([xshift=-4]course.north);
\draw[lk] ([yshift=-5]mythe.east) .. controls (400,55) and (420,68) .. (interets.north west);
\draw[lk] ([xshift=-15]croissance.south east) .. controls (325,105) and (280,125) .. (240,132) .. controls (195,140) and (188,170) .. ([xshift=-30]invis.north);
\draw[lk] ([yshift=-14]interets.west) .. controls (410,78) and (330,75) .. ([xshift=8]enjeux.north);
\draw[lk] (enjeux.west) .. controls (238,172) and (238,182) .. ([xshift=5]invis.north);
\draw[gk] ([xshift=-40]interets.south) .. controls (460,140) and (470,180) .. ([xshift=10]inertieadm.north);
\draw[gk] ([xshift=-52]interets.south) .. controls (430,112) and (415,118) .. ([xshift=5]simplif.north);
\draw[lk] ([xshift=-2]interets.south) .. controls (505,170) and (495,235) .. (austerite.west);
\draw[lk] ([yshift=9]interets.east) .. controls (580,62) and (645,62) .. ([xshift=-5]injonction.north);
\draw[lk] ([yshift=-6]interets.east) .. controls (556,97) .. (preserver.north west);
\draw[lk] ([xshift=-4]preserver.south) .. controls (580,140) and (568,150) .. ([xshift=-8]perdurer.north);
\draw[lk] ([xshift=25]injonction.south) .. controls (692,135) and (672,150) .. (propagande.north);
\draw[gk] ([xshift=10]propagande.south) .. controls (700,232) and (760,240) .. (850,248) .. controls (925,255) and (940,260) .. ([xshift=3]cultiver.north);
\draw[gk] ([xshift=-8]propagande.south) .. controls (660,182) .. (t56.north east);
\draw[gk] ([xshift=-3]propagande.south) .. controls (662,192) .. ([xshift=6]t58.north);
\draw[gk] ([xshift=4]propagande.south) .. controls (676,184) .. ([xshift=4]t57.north west);
\draw[gk] ([xshift=12]nourrir.south) .. controls (812,92) .. (peur.north);
\draw[gk] ([xshift=-10]nourrir.south) .. controls (786,88) .. (fascination.north east);
\draw[lk] ([yshift=4]oligarchie.west) .. controls (925,54) and (905,56) .. ([xshift=-5]discrediter.north);
\draw[lk] ([xshift=-15]oligarchie.south) .. controls (968,95) and (965,105) .. ([xshift=-8]securitaire.north);
\draw[lk] ([xshift=5]oligarchie.south) .. controls (1005,85) .. (edgeR);
\draw[gk] (t64.south) .. controls (905,140) and (910,205) .. (t73.west);
\draw[gk] (edgeR2) .. controls (1010,222) .. (t73.east);
\draw[lk] (t73.south) .. controls (930,250) and (880,300) .. (868,360) .. controls (858,420) and (850,470) .. ([xshift=-10]inertie.north);
\draw[lk] ([yshift=-3]t93.west) .. controls (890,360) and (866,440) .. ([xshift=4]inertie.north);
\draw[lk] ([xshift=2]fairecroire.south) .. controls (810,312) and (806,326) .. (greenwash.north);
\draw[lk] (greenwash.south) .. controls (830,380) and (836,450) .. ([xshift=-22]inertie.north);
\draw[lk] ([yshift=-5]fairecroire.west) .. controls (772,300) and (730,310) .. ([xshift=8]agir.north);
\draw[lk] ([xshift=-25]accommoder.south) .. controls (665,318) and (682,322) .. ([xshift=-8]agir.north);
\draw[lk] ([xshift=5]cultiver.south) .. controls (948,300) .. (diversions.north);
\draw[lk] (cultiver.east) .. controls (1000,283) and (1012,290) .. ([xshift=22]divertiss.north west);
\draw[gk] ([xshift=-10]divertiss.south) .. controls (1000,340) and (900,345) .. (880,420) .. controls (872,460) and (868,480) .. ([xshift=12]inertie.north);
\draw[gk] (desinfo.west) .. controls (890,382) and (875,460) .. ([xshift=18]inertie.north);
\draw[lk] ([xshift=-6]desinfo.south east) .. controls (1012,440) and (982,480) .. ([xshift=-2]deni.north);
\draw[lk] ([xshift=-5]deni.south) .. controls (975,600) and (945,615) .. ([xshift=20]alteration.north);
\draw[lk] ([xshift=-20]inertie.south) .. controls (830,570) and (760,610) .. (735,680) .. controls (715,720) and (600,740) .. ([xshift=30]impreparation.north);
\draw[lk] ([xshift=-3]alteration.south) .. controls (905,712) and (860,722) .. ([xshift=25]neparcevoir.north);
\draw[gk] ([xshift=10]inertie.south) .. controls (862,552) and (900,560) .. (t98.south);
\draw[gk] (zone.east) .. controls (805,474) and (825,485) .. (inertie.north west);
\draw[gk] (peurchg.east) .. controls (805,521) .. (inertie.west);
\draw[gk] ([xshift=-4]faillite.north) .. controls (655,605) and (625,590) .. ([xshift=6]dissimulation.south);
\draw[gk] ([xshift=-6]faillite.north) .. controls (640,612) and (600,608) .. (t112.south);
\draw[gk] ([xshift=-2]faillite.north) .. controls (662,600) and (660,570) .. (t111.south);
\draw[gk] ([xshift=4]faillite.north) .. controls (690,612) and (715,605) .. (t114.south);
% bottom
\draw[tk] ([yshift=-4]impreparation.east) .. controls (600,830) and (620,795) .. (680,785) .. controls (712,779) and (722,770) .. (neparcevoir.south west);
\draw[tk] ([xshift=-6]neparcevoir.south) .. controls (758,800) and (755,836) .. (690,840) .. controls (632,843) and (606,860) .. ([xshift=-30]exacCrises.north);
\draw[tk] ([xshift=-20]exacCrises.south) .. controls (612,975) and (585,985) .. ([xshift=12]perte.north);
\draw[lk, line width=1.1pt] ([xshift=-48]impreparation.south) .. controls (430,855) and (410,865) .. ([xshift=15]exacInegal.north);
\draw[tk] ([xshift=2]exacInegal.south) .. controls (395,962) and (432,985) .. (perte.north west);
\draw[tk] ([xshift=10]disparition.south) .. controls (300,992) and (400,1008) .. ([yshift=-3]perte.west);
\draw[tk] ([xshift=5]declin.south) .. controls (230,920) and (250,930) .. ([xshift=-10]disparition.north);
\draw[gk] ([xshift=-36]impreparation.south) .. controls (466,900) and (470,960) .. ([xshift=-25]perte.north);
\draw[gk] ([xshift=-22]impreparation.south) .. controls (480,900) and (486,960) .. ([xshift=-13]perte.north);
\draw[gk] ([xshift=-8]impreparation.south) .. controls (494,900) and (498,960) .. ([xshift=-2]perte.north);
\draw[gk] ([xshift=15]impreparation.south) .. controls (522,900) and (518,960) .. ([xshift=8]perte.north);
\draw[gk] ([xshift=30]impreparation.south) .. controls (545,900) and (540,960) .. ([xshift=22]perte.north);
\draw[gk] ([xshift=-8]absence.south) .. controls (320,795) and (420,800) .. (impreparation.west);
\draw[gk] (illusion.south) .. controls (395,770) and (460,790) .. ([xshift=-28]impreparation.north);
\draw[gk] (nonprise.south) .. controls (475,770) and (490,790) .. ([xshift=-12]impreparation.north);
\draw[gk] (invisfrag.south) .. controls (515,765) and (505,790) .. ([xshift=2]impreparation.north);
\draw[gk] (precar.south) .. controls (580,770) and (545,790) .. ([xshift=24]impreparation.north);
% left column
\draw[lk] (invis.west) .. controls (165,200) and (130,196) .. ([xshift=5]consequences.north);
\draw[lk] ([xshift=-30]invis.south) .. controls (160,230) and (125,260) .. (118,300) .. controls (114,330) and (118,350) .. (saccages.north);
\draw[gk] ([xshift=-20]consequences.south) .. controls (90,300) and (92,340) .. ([xshift=-10]saccages.north);
\draw[gk] ([xshift=-18]invis.south) .. controls (205,215) .. (t47.north);
\draw[gk] ([xshift=8]invis.south) .. controls (240,210) .. ([xshift=3]t48.north west);
\draw[lk] ([xshift=10]saccages.south) .. controls (150,430) and (148,460) .. ([xshift=40]distanciation.north);
\draw[lk] ([yshift=-5]distanciation.east) .. controls (175,503) and (190,505) .. (donner.north west);
\draw[lk] ([xshift=-10]distanciation.south) .. controls (92,530) and (75,540) .. ([xshift=5]accout.north);
\draw[lk] ([xshift=-12]accout.south) .. controls (48,590) and (40,610) .. ([xshift=-8]syndrome.north);
\draw[lk] ([xshift=5]syndrome.south) .. controls (80,690) and (130,735) .. ([xshift=-12]appauv.north);
\draw[lk] ([xshift=-15]paysage.south) .. controls (128,640) and (140,710) .. ([xshift=-20]habitats.north);
\draw[lk] ([xshift=8]surrep.south) .. controls (262,640) and (240,670) .. (220,685) .. controls (200,700) and (192,725) .. ([xshift=6]habitats.north);
\draw[lk] ([xshift=-8]donner.south) .. controls (215,556) and (200,558) .. (paysage.east);
\draw[lk] ([xshift=2]donner.south) .. controls (233,575) and (240,590) .. ([xshift=-2]surrep.north);
\draw[lk] ([xshift=-15]habitats.south) .. controls (170,782) .. ([xshift=-10]appauv.north);
\draw[lk] ([xshift=5]habitats.south) .. controls (188,782) .. ([xshift=0]appauv.north);
\draw[lk] ([xshift=-8]appauv.south) .. controls (180,824) .. ([xshift=-4]fragilisation.north);
\draw[lk] ([xshift=-3]appauv.south) .. controls (185,824) .. ([xshift=0]fragilisation.north);
\draw[lk] ([xshift=3]appauv.south) .. controls (192,824) .. ([xshift=5]fragilisation.north);
\draw[lk] ([xshift=-3]fragilisation.south) .. controls (185,880) and (198,880) .. ([xshift=-12]declin.north);
\draw[lk] ([xshift=2]fragilisation.south) .. controls (190,878) and (203,879) .. ([xshift=-8]declin.north);
\draw[lk] ([xshift=14]fragilisation.south) .. controls (202,876) and (208,879) .. ([xshift=-4]declin.north);
\end{pgfonlayer}
\end{tikzpicture}
\end{document}
